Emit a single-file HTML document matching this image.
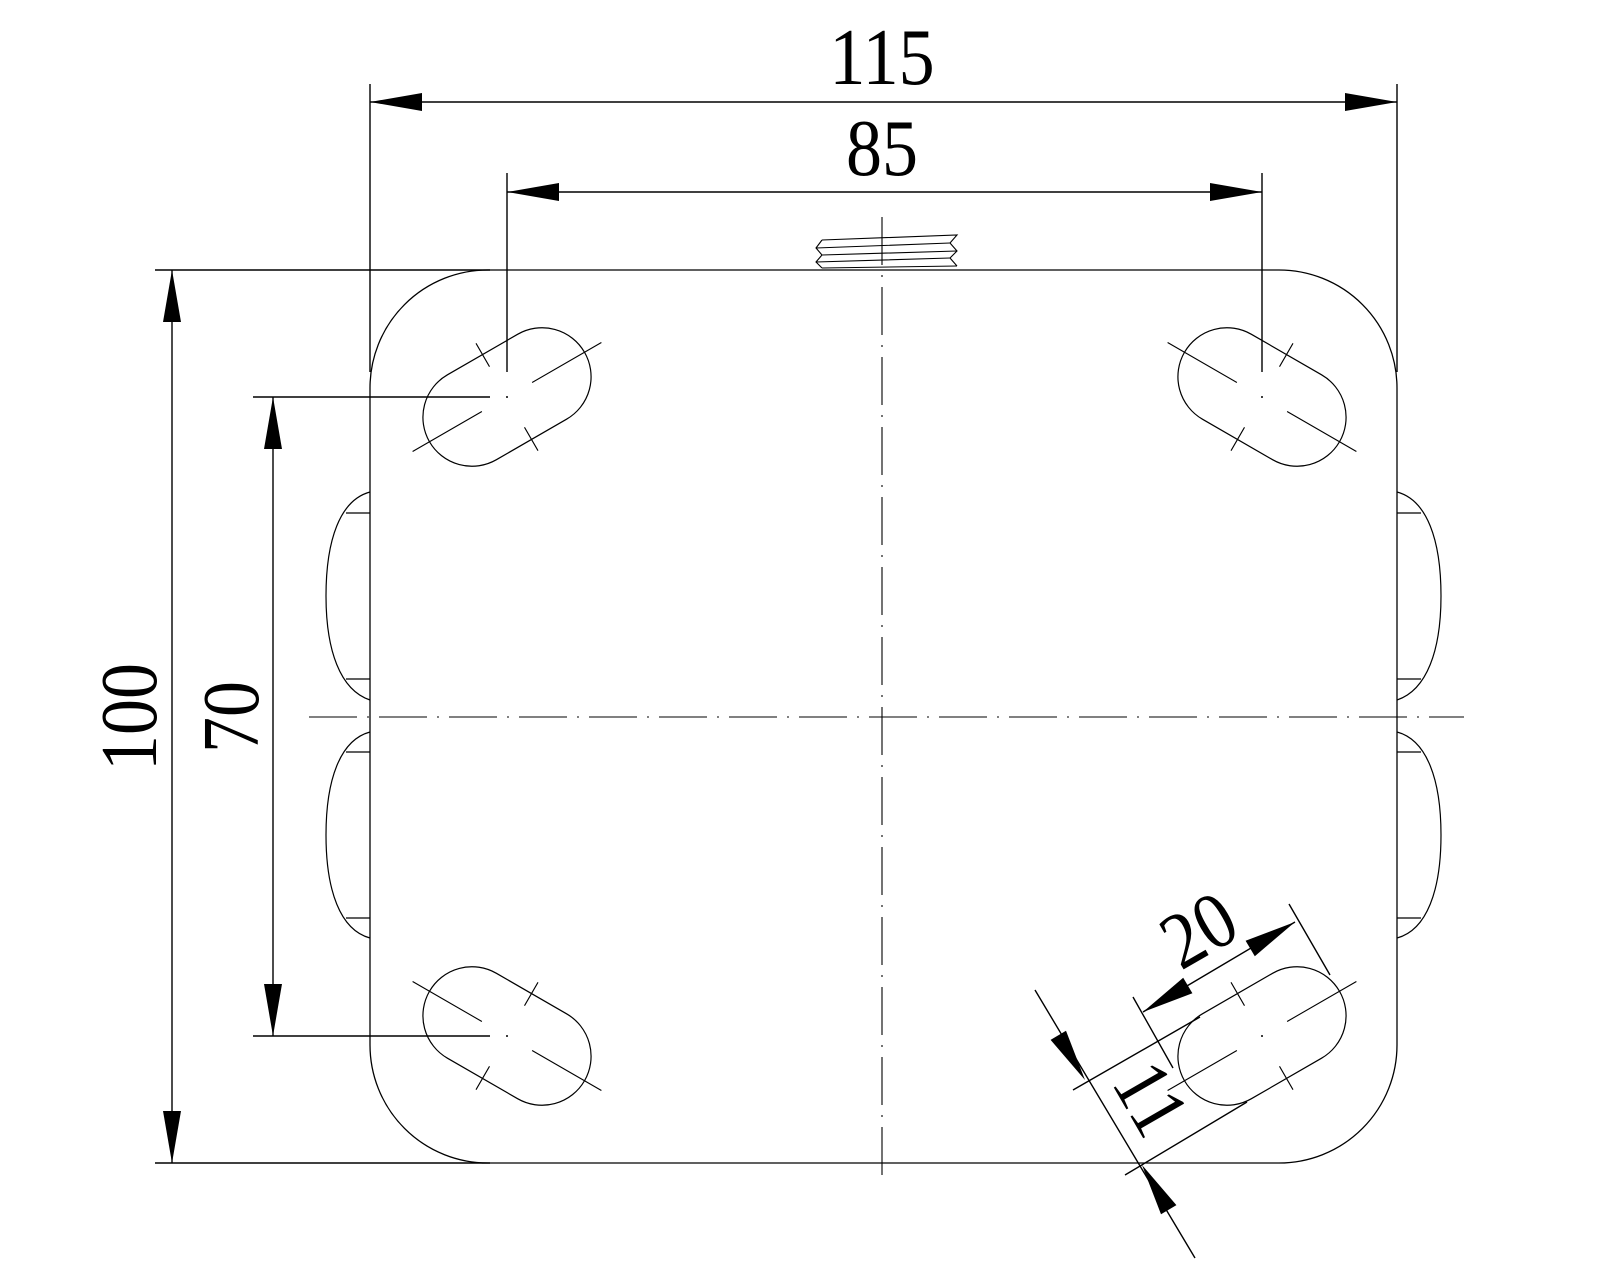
<!DOCTYPE html>
<html><head><meta charset="utf-8"><style>html,body{margin:0;padding:0;background:#fff}svg{display:block}</style></head>
<body>
<svg width="1600" height="1280" viewBox="0 0 1600 1280" xmlns="http://www.w3.org/2000/svg">
<defs>
<g id="slot">
<rect x="-89.5" y="-49" width="179" height="98" rx="49" ry="49" fill="none" stroke="#000" stroke-width="1.2"/>
<path d="M29,0 H109 M-29,0 H-109 M0,35 V62 M0,-35 V-62" stroke="#000" stroke-width="1.1" fill="none"/>
<circle cx="0" cy="0" r="1" fill="#000"/>
</g>
</defs>
<g fill="none" stroke="#000">
<rect x="370" y="270" width="1027" height="893" rx="118" ry="118" stroke-width="1.3"/>
<g stroke-width="1.2">
<path d="M370,492 C340,500 326,540 326,596 C326,650 340,690 370,700 M346,513 H370 M346,679 H370"/>
<path d="M370,732 C340,740 326,780 326,835 C326,890 340,930 370,938 M346,752 H370 M346,918 H370"/>
<path d="M1397,492 C1427,500 1441,540 1441,596 C1441,650 1427,690 1397,700 M1421,513 H1397 M1421,679 H1397"/>
<path d="M1397,732 C1427,740 1441,780 1441,835 C1441,890 1427,930 1397,938 M1421,752 H1397 M1421,918 H1397"/>
</g>
<path d="M882,217 V1183" stroke-width="1.1" stroke-dasharray="48 10 2 10"/>
<path d="M309,717 H1464" stroke-width="1.1" stroke-dasharray="48 10 2 10"/>
<g stroke-width="1.1">
<path d="M822,240 L957,235 L950,243 L957,251 L950,258 L957,266"/>
<path d="M822,240 L816,248 L822,255 L816,262 L822,268"/>
<path d="M816,248 L950,243 M816,262 L950,258"/>
<path d="M822,255 L957,251 M822,268 L957,266"/>
</g>
<g stroke-width="1.4">
<path d="M370,84 V372 M1397,84 V372 M370,102 H1397"/>
<path d="M507,173 V372 M1262,173 V372 M507,192 H1262"/>
<path d="M155,270 H490 M155,1163 H490 M172,270 V1163"/>
<path d="M253,397 H490 M253,1036 H490 M273,397 V1036"/>
<path d="M1133,997 L1173,1068 M1289,904 L1330,975 M1143,1012 L1295,922"/>
<path d="M1073,1090 L1200,1017 M1125,1175 L1247,1102 M1035,990 L1195,1258"/>
</g>
</g>
<g fill="#000">
<polygon points="370,102 422,93 422,111"/>
<polygon points="1397,102 1345,93 1345,111"/>
<polygon points="507,192 559,183 559,201"/>
<polygon points="1262,192 1210,183 1210,201"/>
<polygon points="172,270 163,322 181,322"/>
<polygon points="172,1163 163,1111 181,1111"/>
<polygon points="273,397 264,449 282,449"/>
<polygon points="273,1036 264,984 282,984"/>
<polygon points="1143,1012 1192.4,993.2 1183.2,977.8"/>
<polygon points="1295,922 1254.8,956.2 1245.6,940.8"/>
<polygon points="1085,1080 1066,1030.7 1050.6,1039.9"/>
<polygon points="1142,1165 1176.4,1205.1 1161,1214.3"/>
</g>
<use href="#slot" transform="translate(507,397) rotate(-30)"/>
<use href="#slot" transform="translate(1262,397) rotate(30)"/>
<use href="#slot" transform="translate(507,1036) rotate(30)"/>
<use href="#slot" transform="translate(1262,1036) rotate(-30)"/>
<g font-family="Liberation Serif, serif" font-size="80" fill="#000" text-anchor="middle">
<text transform="translate(882,84) scale(0.9,1)">115</text>
<text transform="translate(882,175) scale(0.9,1)">85</text>
<text transform="translate(156,717) rotate(-90) scale(0.9,1)">100</text>
<text transform="translate(258,717) rotate(-90) scale(0.9,1)">70</text>
<text transform="translate(1212,953) rotate(-30) scale(0.9,1)">20</text>
<text transform="translate(1128,1112) rotate(60) scale(0.9,1)">11</text>
</g>
</svg>
</body></html>
